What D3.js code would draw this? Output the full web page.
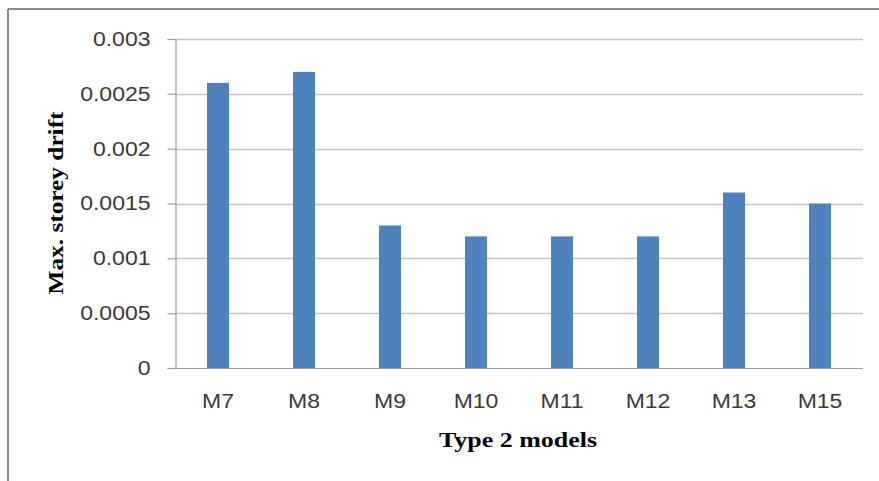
<!DOCTYPE html>
<html><head><meta charset="utf-8">
<script src="https://cdn.jsdelivr.net/npm/d3@7"></script>
<style>body{margin:0;background:#fff}svg{display:block}</style>
</head><body>
<script>
const categories = ["M7","M8","M9","M10","M11","M12","M13","M15"];
const values = [0.0026,0.0027,0.0013,0.0012,0.0012,0.0012,0.0016,0.0015];
const yTicks = [0,0.0005,0.001,0.0015,0.002,0.0025,0.003];
const yTickLabels = ["0","0.0005","0.001","0.0015","0.002","0.0025","0.003"];
const xTitle = "Type 2 models";
const yTitle = "Max. storey drift";

const W = 879, H = 481;
const m = {left:175, right:16, top:39, bottom:113};
const svg = d3.select("body").append("svg").attr("width",W).attr("height",H);

const x = d3.scaleBand().domain(categories).range([m.left, W-m.right]).paddingInner(0.744).paddingOuter(0.372);
const y = d3.scaleLinear().domain([0,0.003]).range([H-m.bottom, m.top]);

// border
svg.append("line").attr("x1",8).attr("x2",W).attr("y1",9).attr("y2",9).attr("stroke","#8a8a8a").attr("stroke-width",2);
svg.append("line").attr("x1",8).attr("x2",8).attr("y1",9).attr("y2",H).attr("stroke","#8a8a8a").attr("stroke-width",2);

// gridlines
svg.append("g").selectAll("line").data(yTicks.slice(1)).join("line")
  .attr("x1",m.left).attr("x2",W-m.right)
  .attr("y1",d=>Math.round(y(d))+0.5).attr("y2",d=>Math.round(y(d))+0.5)
  .attr("stroke","#c4c4c4").attr("stroke-width",1.5);

// y axis
const yAxis = d3.axisLeft(y).tickValues(yTicks).tickFormat((d,i)=>yTickLabels[i]).tickSize(8).tickPadding(17);
const gy = svg.append("g").attr("transform",`translate(${m.left+0.5},0)`).call(yAxis);
gy.select(".domain").attr("stroke","#a0a0a0").attr("stroke-width",1.2);
gy.selectAll(".tick line").attr("stroke","#a0a0a0").attr("stroke-width",1.2);
gy.selectAll(".tick text").attr("fill","#3a3a3a").style("font-family","'Liberation Sans', Arial, sans-serif").style("font-size","20px");

// bars
svg.append("g").selectAll("rect").data(values).join("rect")
  .attr("x",(d,i)=>x(categories[i])).attr("width",x.bandwidth())
  .attr("y",d=>y(d)).attr("height",d=>y(0)-y(d))
  .attr("fill","#4f81bd");

// x axis baseline
svg.append("line").attr("x1",m.left).attr("x2",W-m.right).attr("y1",y(0)+0.5).attr("y2",y(0)+0.5).attr("stroke","#a0a0a0").attr("stroke-width",1.2);

// x labels
const xAxis = d3.axisBottom(x).tickSize(0).tickPadding(26);
const gx = svg.append("g").attr("transform",`translate(0,${y(0)})`).call(xAxis);
gx.select(".domain").remove();
gx.selectAll(".tick text").attr("fill","#3a3a3a").style("font-family","'Liberation Sans', Arial, sans-serif").style("font-size","20px");

// horizontal stretch to mimic the source picture
svg.selectAll(".tick text").each(function(){
  const n = this.getComputedTextLength();
  d3.select(this).attr("textLength", n*1.15).attr("lengthAdjust","spacingAndGlyphs");
});

// titles
svg.append("text").attr("x",518).attr("y",447).attr("text-anchor","middle")
  .style("font-family","'Liberation Serif','Times New Roman',serif").style("font-weight","bold").style("font-size","21px")
  .attr("fill","#000").attr("textLength",158).attr("lengthAdjust","spacingAndGlyphs").text(xTitle);
svg.append("text").attr("transform","translate(63,203) rotate(-90)").attr("text-anchor","middle")
  .style("font-family","'Liberation Serif','Times New Roman',serif").style("font-weight","bold").style("font-size","21px")
  .attr("fill","#000").attr("textLength",183).attr("lengthAdjust","spacingAndGlyphs").text(yTitle);
</script>
</body></html>
